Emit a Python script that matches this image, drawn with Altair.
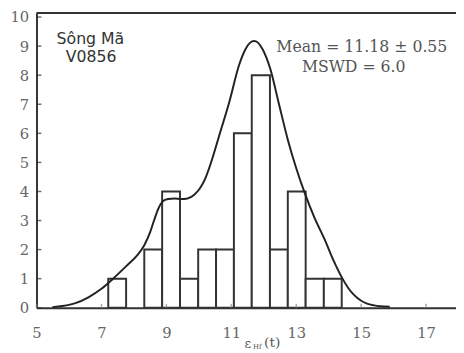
import altair as alt
import pandas as pd

# histogram bins (eHf(t)) and counts
bin_lo = [7.21, 8.32, 8.87, 9.42, 9.98, 10.53, 11.08, 11.63, 12.19, 12.74, 13.29, 13.85]
bin_hi = [7.76, 8.87, 9.42, 9.98, 10.53, 11.08, 11.63, 12.19, 12.74, 13.29, 13.85, 14.40]
counts = [1, 2, 4, 1, 2, 2, 6, 8, 2, 4, 1, 1]

# probability density curve
curve_x = [5.49, 5.80, 6.20, 6.60, 7.00, 7.36, 7.81, 8.10, 8.32, 8.50, 8.62, 8.75, 8.88,
           9.05, 9.25, 9.45, 9.65, 9.85, 10.03, 10.20, 10.33, 10.64, 10.94, 11.24, 11.44,
           11.58, 11.70, 11.82, 11.95, 12.20, 12.45, 12.75, 13.00, 13.26, 13.56, 13.87,
           14.15, 14.42, 14.60, 14.77, 15.00, 15.18, 15.40, 15.58, 15.88]
curve_y = [0.02, 0.06, 0.16, 0.36, 0.65, 1.00, 1.48, 1.80, 2.15, 2.60, 3.00, 3.40, 3.65,
           3.74, 3.76, 3.74, 3.76, 3.88, 4.10, 4.45, 4.84, 5.97, 7.09, 8.35, 8.90,
           9.12, 9.18, 9.12, 8.92, 8.22, 7.09, 5.74, 4.80, 3.95, 3.10, 2.36,
           1.62, 1.01, 0.68, 0.45, 0.24, 0.14, 0.08, 0.05, 0.03]

x_ticks = [5, 7, 9, 11, 13, 15, 17]
y_ticks = [0, 1, 2, 3, 4, 5, 6, 7, 8, 9, 10]

W, H = 427, 300
XDOM = [5, 17.92]
YDOM = [0, 10.14]

bars = pd.DataFrame({"lo": bin_lo, "hi": bin_hi, "n": counts})
curve = pd.DataFrame({"x": curve_x, "y": curve_y})

xs = alt.Scale(domain=XDOM, nice=False, zero=False)
ys = alt.Scale(domain=YDOM, nice=False)

AX = "#333333"
LBL = "#666666"

XA = alt.Axis(values=x_ticks, ticks=False, grid=False, domainColor=AX, domainWidth=2,
              labelFont="DejaVu Serif", labelFontSize=15, labelColor=LBL,
              labelPadding=18, title=None, labelFlush=False, labelOverlap=False)
YA = alt.Axis(values=y_ticks, ticks=False, grid=False, domainColor=AX, domainWidth=2,
              labelFont="DejaVu Serif", labelFontSize=15, labelColor=LBL,
              labelPadding=8, title=None, labelOverlap=False, labelFlush=False)


def X(f):
    return alt.X(f, scale=xs, axis=XA)


def Y(f):
    return alt.Y(f, scale=ys, axis=YA)


rects = alt.Chart(bars).mark_rect(fill="white", stroke=AX, strokeWidth=2).encode(
    x=X("lo:Q"), x2="hi:Q", y=Y("n:Q"), y2=alt.datum(0))

line = alt.Chart(curve).mark_line(color="#222222", strokeWidth=2, interpolate="monotone").encode(
    x=X("x:Q"), y=Y("y:Q"))

# inward ticks
ytk = alt.Chart(pd.DataFrame({"v": y_ticks})).mark_tick(
    color=AX, thickness=1.5, size=5, orient="horizontal").encode(
    y=Y("v:Q"), x=alt.value(2.5))
xtk = alt.Chart(pd.DataFrame({"v": x_ticks})).mark_tick(
    color="#888888", thickness=1.5, size=4, orient="vertical").encode(
    x=X("v:Q"), y=alt.value(H - 2))

# top frame line
top = alt.Chart(pd.DataFrame({"lo": [XDOM[0]], "hi": [XDOM[1]], "v": [YDOM[1]]})).mark_rule(
    color=AX, strokeWidth=2).encode(
    x=X("lo:Q"), x2="hi:Q", y=Y("v:Q"))

sans = pd.DataFrame({"t": ["Sông Mã", "V0856"], "x": [6.66, 6.68], "y": [9.25, 8.62]})
sans_txt = alt.Chart(sans).mark_text(font="DejaVu Sans", fontSize=16, color="#333333",
                                     align="center", baseline="middle").encode(
    x=X("x:Q"), y=Y("y:Q"), text="t:N")

serif = pd.DataFrame({"t": ["Mean = 11.18 ± 0.55", "MSWD = 6.0"], "x": [15.02, 14.77], "y": [8.95, 8.28]})
serif_txt = alt.Chart(serif).mark_text(font="DejaVu Serif", fontSize=16, color="#555555",
                                       align="center", baseline="middle").encode(
    x=X("x:Q"), y=Y("y:Q"), text="t:N")

ttl = pd.DataFrame({"t": ["ε", "Hf", "(t)"], "x": [11.51, 11.80, 12.26], "y": [-1.25, -1.36, -1.22],
                    "s": [13, 7, 14]})
ttl_txt = alt.Chart(ttl).mark_text(font="DejaVu Serif", color="#555555",
                                   align="center", baseline="middle").encode(
    x=X("x:Q"), y=Y("y:Q"), text="t:N",
    size=alt.Size("s:Q", scale=None, legend=None))

chart = alt.layer(rects, line, ytk, xtk, top, sans_txt, serif_txt, ttl_txt).properties(
    width=W, height=H,
    autosize=alt.AutoSizeParams(type="none"),
    padding={"left": 29, "top": 2, "right": 0, "bottom": 43},
).configure_view(stroke=None).configure(background="white")

chart.save("out.html", embed_options={"renderer": "svg", "actions": False})
